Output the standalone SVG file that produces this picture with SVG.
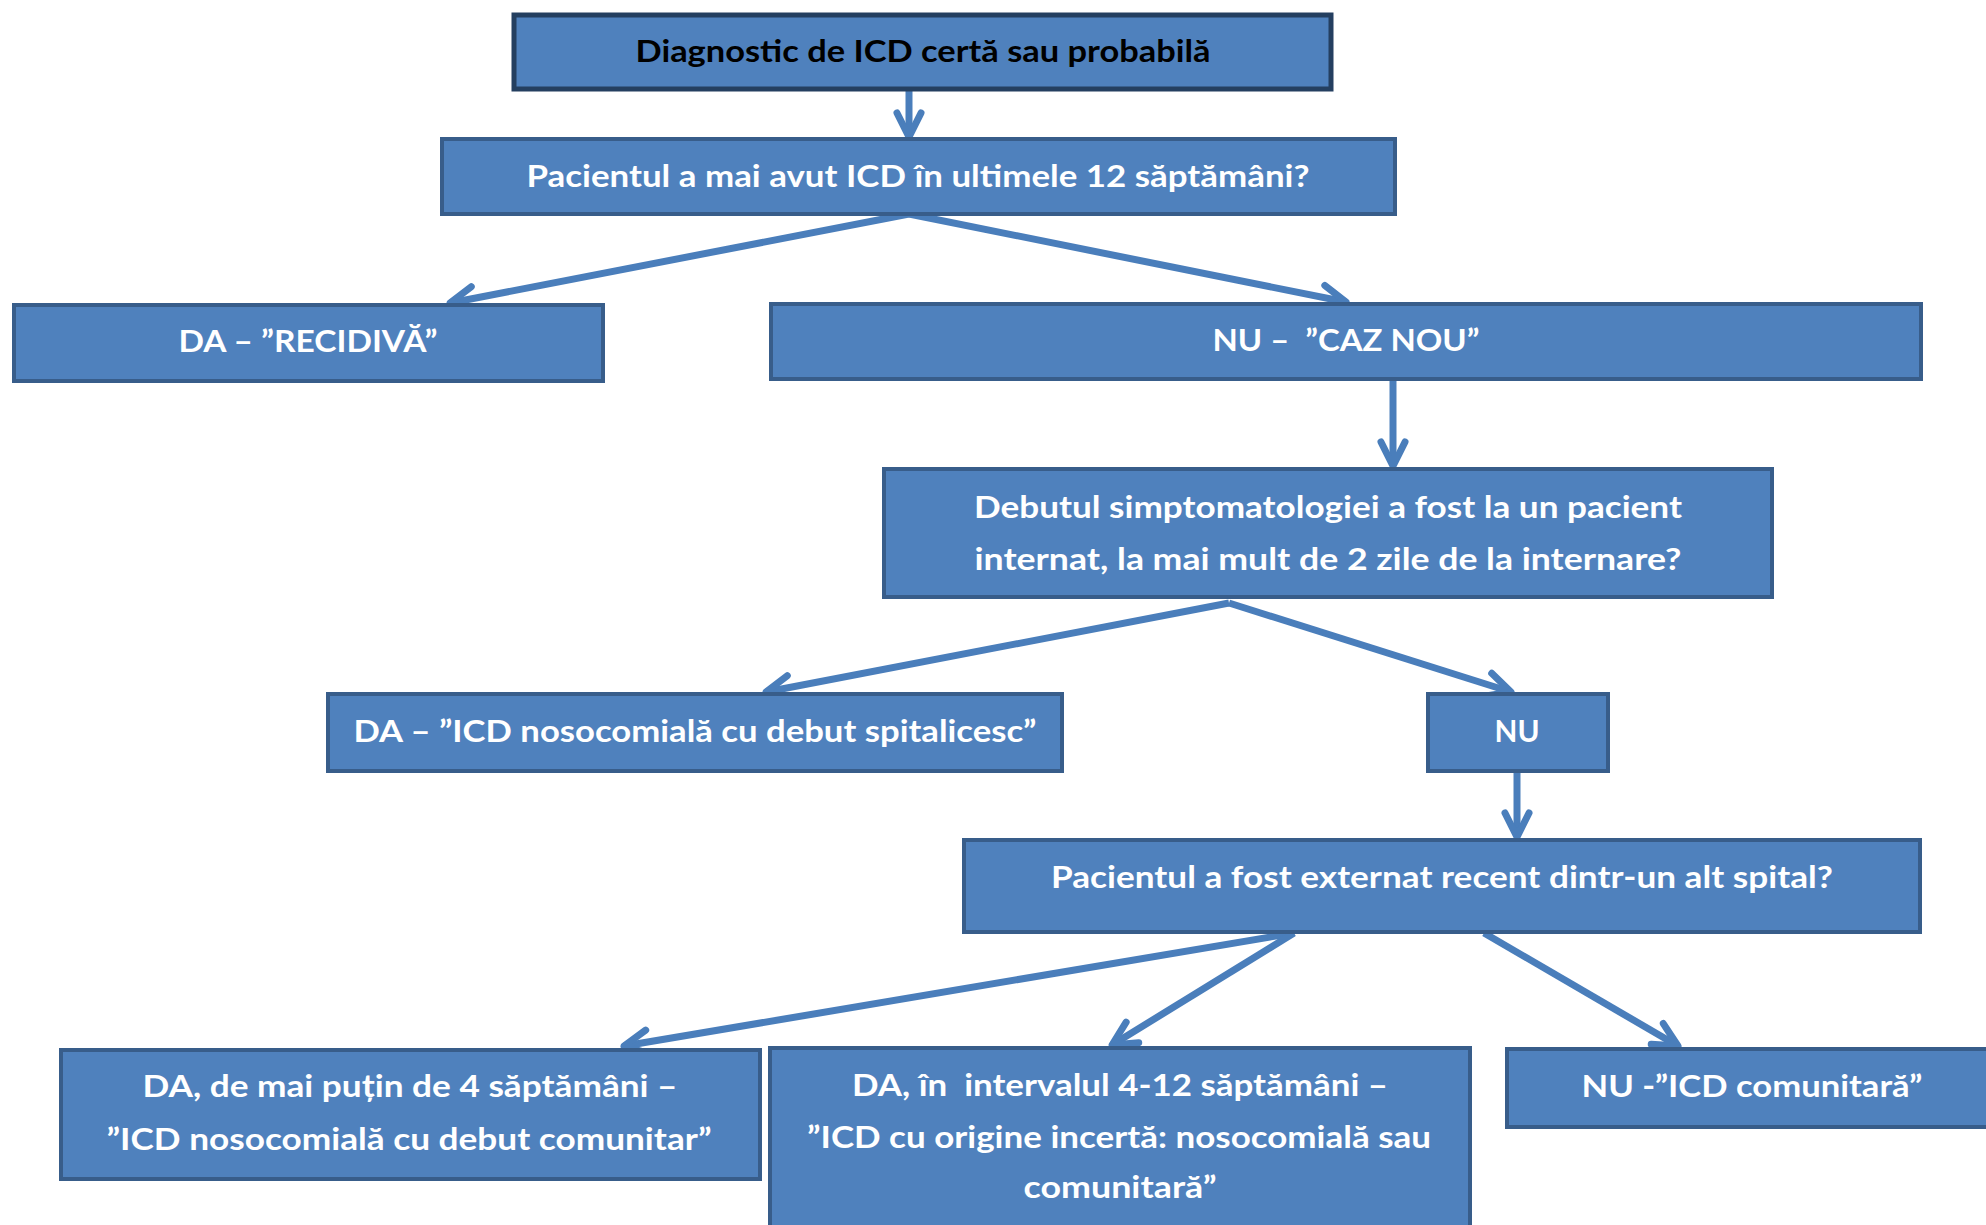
<svg xmlns="http://www.w3.org/2000/svg" width="1986" height="1225" viewBox="0 0 1986 1225">
<defs>
<style>
.box{fill:#4F81BD;stroke:#385D8A;stroke-width:4}
.box1{fill:#4F81BD;stroke:#243F60;stroke-width:5}
.t{font-family:Lato,"Liberation Sans",sans-serif;font-weight:bold;font-size:31px;fill:#FFFFFF;text-anchor:middle}
.tb{fill:#000000}
.conn{stroke:#4A7EBB;stroke-width:7;fill:none;marker-end:url(#arr)}
</style>
<marker id="arr" markerUnits="userSpaceOnUse" viewBox="-30 -20 40 40" refX="0" refY="0" markerWidth="40" markerHeight="40" orient="auto" overflow="visible">
<path d="M -24,-12 L 0,0 L -24,12" fill="none" stroke="#4A7EBB" stroke-width="7" stroke-linecap="round" stroke-linejoin="round"/>
</marker>
</defs>
<g id="connectors">
<line class="conn" x1="909" y1="89" x2="909" y2="137"/>
<line class="conn" x1="909" y1="214" x2="450" y2="303"/>
<line class="conn" x1="909" y1="214" x2="1346" y2="302"/>
<line class="conn" x1="1393" y1="379" x2="1393" y2="466"/>
<line class="conn" x1="1229" y1="603" x2="766" y2="692"/>
<line class="conn" x1="1229" y1="603" x2="1511" y2="692"/>
<line class="conn" x1="1517" y1="772" x2="1517" y2="837"/>
<line class="conn" x1="1294" y1="933" x2="624" y2="1046"/>
<line class="conn" x1="1294" y1="933" x2="1112" y2="1045"/>
<line class="conn" x1="1484" y1="933" x2="1678" y2="1046"/>
</g>
<g id="n1"><rect class="box1" x="514" y="15" width="817" height="74"/><text class="t tb" x="923" y="62" textLength="575" lengthAdjust="spacingAndGlyphs">Diagnostic de ICD certă sau probabilă</text></g>
<g id="n2"><rect class="box" x="442" y="139" width="953" height="75"/><text class="t" x="918" y="187" textLength="783" lengthAdjust="spacingAndGlyphs">Pacientul a mai avut ICD în ultimele 12 săptămâni?</text></g>
<g id="n3"><rect class="box" x="14" y="305" width="589" height="76"/><text class="t" x="308" y="352" textLength="259" lengthAdjust="spacingAndGlyphs">DA – ”RECIDIVĂ”</text></g>
<g id="n4"><rect class="box" x="771" y="304" width="1150" height="75"/><text class="t" x="1346" y="351" textLength="267" lengthAdjust="spacingAndGlyphs" xml:space="preserve">NU –  ”CAZ NOU”</text></g>
<g id="n5"><rect class="box" x="884" y="469" width="888" height="128"/><text class="t" x="1328" y="518" textLength="708" lengthAdjust="spacingAndGlyphs">Debutul simptomatologiei a fost la un pacient</text><text class="t" x="1328" y="570" textLength="707" lengthAdjust="spacingAndGlyphs">internat, la mai mult de 2 zile de la internare?</text></g>
<g id="n6"><rect class="box" x="328" y="694" width="734" height="77"/><text class="t" x="695" y="742" textLength="683" lengthAdjust="spacingAndGlyphs">DA – ”ICD nosocomială cu debut spitalicesc”</text></g>
<g id="n7"><rect class="box" x="1428" y="694" width="180" height="77"/><text class="t" x="1517" y="742" textLength="45" lengthAdjust="spacingAndGlyphs">NU</text></g>
<g id="n8"><rect class="box" x="964" y="840" width="956" height="92"/><text class="t" x="1442" y="888" textLength="782" lengthAdjust="spacingAndGlyphs">Pacientul a fost externat recent dintr-un alt spital?</text></g>
<g id="n9"><rect class="box" x="61" y="1050" width="699" height="129"/><text class="t" x="410" y="1097" textLength="535" lengthAdjust="spacingAndGlyphs">DA, de mai puțin de 4 săptămâni –</text><text class="t" x="409" y="1150" textLength="605" lengthAdjust="spacingAndGlyphs">”ICD nosocomială cu debut comunitar”</text></g>
<g id="n10"><rect class="box" x="770" y="1048" width="700" height="200"/><text class="t" x="1120" y="1096" textLength="536" lengthAdjust="spacingAndGlyphs" xml:space="preserve">DA, în  intervalul 4-12 săptămâni –</text><text class="t" x="1119" y="1148" textLength="624" lengthAdjust="spacingAndGlyphs">”ICD cu origine incertă: nosocomială sau</text><text class="t" x="1120" y="1198" textLength="193" lengthAdjust="spacingAndGlyphs">comunitară”</text></g>
<g id="n11"><rect class="box" x="1507" y="1049" width="495" height="78"/><text class="t" x="1752" y="1097" textLength="341" lengthAdjust="spacingAndGlyphs">NU -”ICD comunitară”</text></g>
</svg>
